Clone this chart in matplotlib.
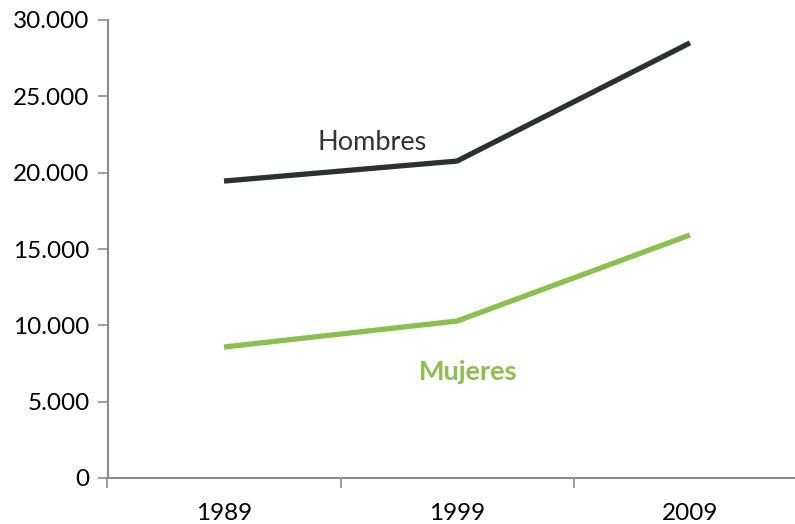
import matplotlib
matplotlib.use("Agg")
import matplotlib.pyplot as plt
from matplotlib.ticker import FuncFormatter

years = ["1989", "1999", "2009"]
hombres = [19450, 20760, 28500]
mujeres = [8580, 10280, 15920]
yticks = [0, 5000, 10000, 15000, 20000, 25000, 30000]

plt.rcParams['font.family'] = ['Lato', 'DejaVu Sans']

W, H = 795, 524
fig = plt.figure(figsize=(W/100, H/100), dpi=100)
ax = fig.add_axes([107.5/W, 46/H, 699/W, 458/H])

x = list(range(len(years)))
ax.plot(x, hombres, color='#2b312d', lw=3.8, solid_capstyle='butt')
ax.plot(x, mujeres, color='#8cbf50', lw=3.8, solid_capstyle='butt')

ax.set_xlim(-0.5, 2.5)
ax.set_ylim(0, 30000)
ax.set_yticks(yticks)
ax.yaxis.set_major_formatter(FuncFormatter(lambda v, p: f"{int(v):,}".replace(",", ".")))
ax.set_xticks([i + 0.5 for i in range(-1, len(years))], minor=False)
ax.set_xticklabels([])
ax.set_xticks(x, minor=True)
ax.set_xticklabels(years, minor=True)
ax.tick_params(axis='x', which='major', length=7, width=1.2, color='#8c8c8c', direction='out')
ax.tick_params(axis='x', which='minor', length=0, pad=18, labelsize=17.5)
ax.tick_params(axis='y', length=7, width=1.2, color='#8c8c8c', labelsize=17.5, pad=6)

for s in ['top', 'right']:
    ax.spines[s].set_visible(False)
for s in ['left', 'bottom']:
    ax.spines[s].set_color('#8c8c8c')
    ax.spines[s].set_linewidth(1.5)

ax.text(0.635, 21950, "Hombres", ha='center', va='center', fontsize=19.5, color='#333333')
ax.text(1.047, 6940, "Mujeres", ha='center', va='center', fontsize=19.5, color='#8cbf50', fontweight='bold')

fig.savefig("out.png", dpi=100)
